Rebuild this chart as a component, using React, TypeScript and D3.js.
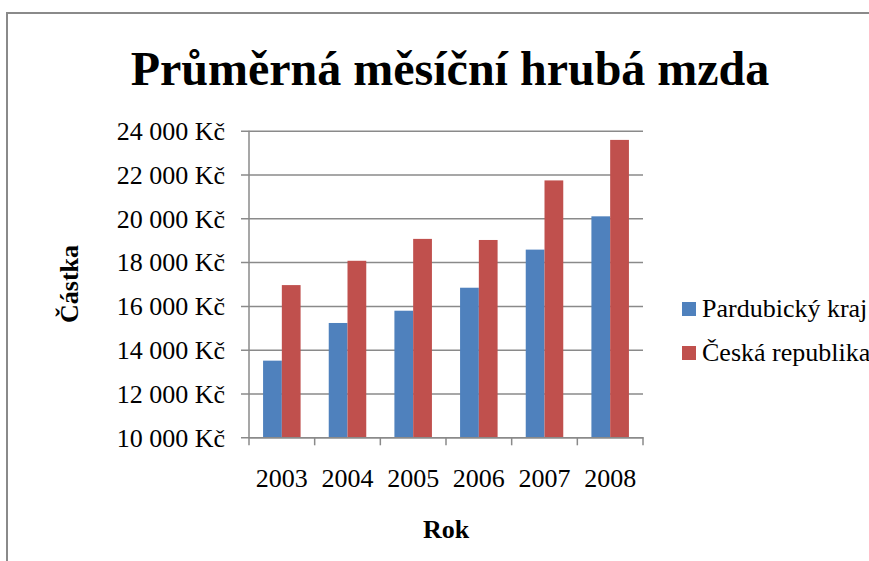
import React, { useEffect, useRef } from "react";
import * as d3 from "d3";

const years = ["2003", "2004", "2005", "2006", "2007", "2008"];
const seriesNames = ["Pardubický kraj", "Česká republika"];
const pardubickyKraj = [13500, 15220, 15780, 16830, 18570, 20090];
const ceskaRepublika = [16950, 18060, 19060, 19010, 21730, 23580];
const yTicks = [10000, 12000, 14000, 16000, 18000, 20000, 22000, 24000];

const colors = ["#4F81BD", "#C0504D"];
const FONT = "Liberation Serif, Times New Roman, serif";

const App: React.FC = () => {
  const ref = useRef<SVGSVGElement>(null);

  useEffect(() => {
    if (!ref.current) return;
    const left = 249;
    const right = 643;
    const top = 130.7;
    const bottom = 437.3;

    const svg = d3.select(ref.current);
    svg.selectAll("*").remove();

    // chart frame
    svg
      .append("rect")
      .attr("x", 7)
      .attr("y", 13)
      .attr("width", 900)
      .attr("height", 600)
      .attr("fill", "#fff")
      .attr("stroke", "#8a8a8a")
      .attr("stroke-width", 2);

    const x0 = d3.scaleBand<string>().domain(years).range([left, right]);
    const barW = x0.bandwidth() / 3.5;
    const gap = barW * 0.75;
    const x1 = d3
      .scaleBand<number>()
      .domain([0, 1])
      .range([gap, x0.bandwidth() - gap]);
    const y = d3.scaleLinear().domain([10000, 24000]).range([bottom, top]);

    // gridlines + y labels
    const yAxis = svg
      .append("g")
      .attr("transform", `translate(${left},0)`)
      .call(
        d3
          .axisLeft(y)
          .tickValues(yTicks)
          .tickSize(-(right - left))
          .tickSizeOuter(0)
          .tickFormat((d) => d3.format(",")(d as number).replace(",", " ") + " Kč")
      );
    yAxis.select(".domain").remove();
    yAxis
      .selectAll(".tick line")
      .attr("x1", -8)
      .attr("stroke", "#8a8a8a")
      .attr("stroke-width", 1.5);
    yAxis
      .selectAll(".tick text")
      .attr("x", -24)
      .attr("dy", "0.34em")
      .style("font-family", FONT)
      .style("font-size", "26px")
      .attr("fill", "#000");

    // bars
    const series = [pardubickyKraj, ceskaRepublika];
    series.forEach((vals, s) => {
      svg
        .append("g")
        .selectAll("rect")
        .data(vals)
        .enter()
        .append("rect")
        .attr("x", (d, i) => (x0(years[i]) as number) + (x1(s) as number))
        .attr("y", (d) => y(d))
        .attr("width", x1.bandwidth())
        .attr("height", (d) => bottom - y(d))
        .attr("fill", colors[s]);
    });

    // y axis line
    svg
      .append("line")
      .attr("x1", left)
      .attr("x2", left)
      .attr("y1", top)
      .attr("y2", bottom)
      .attr("stroke", "#8a8a8a")
      .attr("stroke-width", 1.5);

    // x axis
    const xAxis = svg
      .append("g")
      .attr("transform", `translate(0,${bottom})`)
      .call(d3.axisBottom(x0).tickSize(0).tickSizeOuter(0));
    xAxis.select(".domain").attr("stroke", "#8a8a8a").attr("stroke-width", 1.5);
    xAxis
      .selectAll(".tick text")
      .attr("y", 50)
      .attr("dy", 0)
      .style("font-family", FONT)
      .style("font-size", "26px")
      .attr("fill", "#000");
    const edges = [...years.map((c) => x0(c) as number), right];
    xAxis
      .selectAll(".edge")
      .data(edges)
      .enter()
      .append("line")
      .attr("x1", (d) => d)
      .attr("x2", (d) => d)
      .attr("y1", 0)
      .attr("y2", 8)
      .attr("stroke", "#8a8a8a")
      .attr("stroke-width", 1.5);

    // titles
    svg
      .append("text")
      .attr("x", 450)
      .attr("y", 85)
      .attr("text-anchor", "middle")
      .style("font-family", FONT)
      .style("font-weight", "bold")
      .style("font-size", "48px")
      .text("Průměrná měsíční hrubá mzda");

    svg
      .append("text")
      .attr("x", (left + right) / 2)
      .attr("y", 538)
      .attr("text-anchor", "middle")
      .style("font-family", FONT)
      .style("font-weight", "bold")
      .style("font-size", "26px")
      .text("Rok");

    svg
      .append("text")
      .attr("transform", `translate(78,${(top + bottom) / 2}) rotate(-90)`)
      .attr("text-anchor", "middle")
      .style("font-family", FONT)
      .style("font-weight", "bold")
      .style("font-size", "26px")
      .text("Částka");

    // legend
    const legend = svg
      .append("g")
      .selectAll("g")
      .data(seriesNames)
      .enter()
      .append("g")
      .attr("transform", (d, i) => `translate(682,${302 + i * 44})`);
    legend
      .append("rect")
      .attr("width", 14)
      .attr("height", 14)
      .attr("fill", (d, i) => colors[i]);
    legend
      .append("text")
      .attr("x", 20)
      .attr("y", 15)
      .style("font-family", FONT)
      .style("font-size", "26px")
      .text((d) => d);
  }, []);

  return (
    <svg
      ref={ref}
      width={869}
      height={561}
      style={{ position: "absolute", left: 0, top: 0, background: "#fff" }}
    />
  );
};

export default App;
